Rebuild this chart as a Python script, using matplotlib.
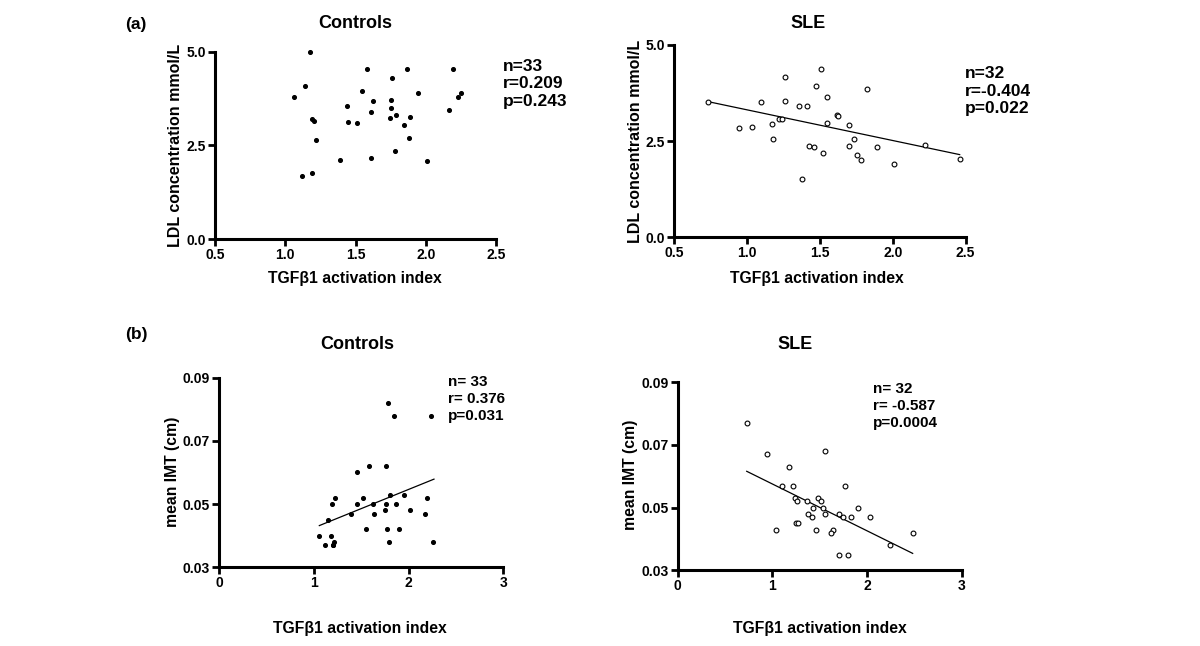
import matplotlib
matplotlib.use("Agg")
from matplotlib import pyplot as plt

plt.rcParams['font.family'] = ['Liberation Sans', 'DejaVu Sans']
plt.rcParams['font.weight'] = 'bold'

# (a) LDL vs TGFb1 activation index
ctrl_ldl_x = [1.174, 1.06, 1.143, 1.193, 1.207, 1.219, 1.117, 1.19, 1.389, 1.436, 1.448,
              1.514, 1.543, 1.585, 1.623, 1.613, 1.613, 1.75, 1.75, 1.762, 1.743, 1.79,
              1.781, 1.864, 1.843, 1.89, 1.88, 1.942, 2.01, 2.162, 2.193, 2.233, 2.252]
ctrl_ldl_y = [5.0, 3.78, 4.08, 3.2, 3.15, 2.64, 1.68, 1.77, 2.12, 3.56, 3.13,
              3.09, 3.95, 4.55, 3.68, 3.40, 2.17, 3.71, 3.51, 4.30, 3.22, 3.30,
              2.35, 4.55, 3.05, 3.25, 2.70, 3.90, 2.09, 3.44, 4.54, 3.80, 3.90]

sle_ldl_x = [0.729, 0.947, 1.036, 1.098, 1.169, 1.217, 1.24, 1.18, 1.263, 1.263, 1.356,
             1.414, 1.423, 1.459, 1.473, 1.508, 1.524, 1.549, 1.551, 1.375, 1.615, 1.624,
             1.698, 1.732, 1.698, 1.755, 1.785, 1.824, 1.892, 2.011, 2.222, 2.46]
sle_ldl_y = [3.53, 2.83, 2.86, 3.52, 2.94, 3.07, 3.07, 2.56, 4.16, 3.54, 3.41,
             3.41, 2.37, 2.35, 3.93, 4.38, 2.18, 3.65, 2.96, 1.52, 3.19, 3.16,
             2.91, 2.56, 2.37, 2.13, 2.01, 3.85, 2.35, 1.90, 2.40, 2.03]
sle_ldl_fit_x = [0.729, 2.46]
sle_ldl_fit_y = [3.53, 2.15]

# (b) mean IMT vs TGFb1 activation index
ctrl_imt_x = [1.786, 1.849, 2.239, 1.585, 1.761, 1.452, 1.22, 1.518, 1.80, 1.951, 2.197,
              1.195, 1.452, 1.62, 1.761, 1.87, 1.392, 1.631, 1.75, 2.018, 2.172, 1.146,
              1.55, 1.772, 1.898, 1.058, 1.178, 1.118, 1.199, 1.209, 1.789, 2.26, 1.20]
ctrl_imt_y = [0.082, 0.078, 0.078, 0.062, 0.062, 0.060, 0.052, 0.052, 0.053, 0.053, 0.052,
              0.050, 0.050, 0.050, 0.050, 0.050, 0.047, 0.047, 0.048, 0.048, 0.047, 0.045,
              0.042, 0.042, 0.042, 0.040, 0.040, 0.037, 0.037, 0.038, 0.038, 0.038, 0.037]
ctrl_imt_fit_x = [1.058, 2.267]
ctrl_imt_fit_y = [0.0432, 0.0579]

sle_imt_x = [0.729, 0.944, 1.173, 1.556, 1.099, 1.222, 1.771, 1.243, 1.264, 1.363, 1.482,
             1.518, 1.426, 1.532, 1.908, 1.380, 1.556, 1.419, 1.708, 1.743, 1.835, 2.028,
             1.246, 1.271, 1.035, 1.465, 1.637, 1.620, 2.482, 2.243, 1.708, 1.799]
sle_imt_y = [0.077, 0.067, 0.063, 0.068, 0.057, 0.057, 0.057, 0.053, 0.052, 0.052, 0.053,
             0.052, 0.050, 0.050, 0.050, 0.048, 0.048, 0.047, 0.048, 0.047, 0.047, 0.047,
             0.045, 0.045, 0.043, 0.043, 0.043, 0.042, 0.042, 0.038, 0.035, 0.035]
sle_imt_fit_x = [0.729, 2.482]
sle_imt_fit_y = [0.0616, 0.0354]

xlabel = 'TGF\u03b21 activation index'


def style_axes(ax, xlim, ylim, xticks, yticks, xfmt, yfmt):
    ax.set_xlim(*xlim)
    ax.set_ylim(*ylim)
    ax.set_xticks(xticks)
    ax.set_yticks(yticks)
    ax.set_xticklabels([xfmt.format(v) for v in xticks])
    ax.set_yticklabels([yfmt.format(v) for v in yticks])
    for side in ['top', 'right']:
        ax.spines[side].set_visible(False)
    for side in ['left', 'bottom']:
        ax.spines[side].set_linewidth(2.2)
    ax.tick_params(width=2, length=5, labelsize=10, pad=1.5)
    for lab in ax.get_xticklabels() + ax.get_yticklabels():
        lab.set_fontweight('bold')


fig = plt.figure(figsize=(12, 6.46), dpi=100)

# panel a - controls
ax0 = fig.add_axes([215 / 1200, 1 - 239 / 646, 281 / 1200, 187.3 / 646])
ax0.scatter(ctrl_ldl_x, ctrl_ldl_y, s=7, color='black', clip_on=False, zorder=3)
style_axes(ax0, (0.5, 2.5), (0, 5), [0.5, 1.0, 1.5, 2.0, 2.5], [0.0, 2.5, 5.0], '{:.1f}', '{:.1f}')

# panel a - SLE
ax1 = fig.add_axes([674.3 / 1200, 1 - 237.3 / 646, 291.2 / 1200, 192.3 / 646])
ax1.scatter(sle_ldl_x, sle_ldl_y, s=12, facecolors='white', edgecolors='black',
            linewidths=0.8, clip_on=False, zorder=3)
ax1.plot(sle_ldl_fit_x, sle_ldl_fit_y, color='black', lw=0.9)
style_axes(ax1, (0.5, 2.5), (0, 5), [0.5, 1.0, 1.5, 2.0, 2.5], [0.0, 2.5, 5.0], '{:.1f}', '{:.1f}')

# panel b - controls
ax2 = fig.add_axes([219 / 1200, 1 - 567.3 / 646, 284.5 / 1200, 189.6 / 646])
ax2.scatter(ctrl_imt_x, ctrl_imt_y, s=7, color='black', clip_on=False, zorder=3)
ax2.plot(ctrl_imt_fit_x, ctrl_imt_fit_y, color='black', lw=0.9)
style_axes(ax2, (0, 3), (0.03, 0.09), [0, 1, 2, 3], [0.03, 0.05, 0.07, 0.09], '{:d}', '{:.2f}')

# panel b - SLE
ax3 = fig.add_axes([677.7 / 1200, 1 - 570.3 / 646, 284 / 1200, 188 / 646])
ax3.scatter(sle_imt_x, sle_imt_y, s=12, facecolors='white', edgecolors='black',
            linewidths=0.8, clip_on=False, zorder=3)
ax3.plot(sle_imt_fit_x, sle_imt_fit_y, color='black', lw=0.9)
style_axes(ax3, (0, 3), (0.03, 0.09), [0, 1, 2, 3], [0.03, 0.05, 0.07, 0.09], '{:d}', '{:.2f}')

# labels placed in figure pixels
def ftext(x, y, s, **kw):
    fig.text(x / 1200, 1 - y / 646, s, fontweight='bold', **kw)

ftext(136, 25, '(a)', fontsize=12.5, ha='center', va='center')
ftext(136, 335, '(b)', fontsize=12.5, ha='center', va='center')

ftext(355, 23, 'Controls', fontsize=13, ha='center', va='center')
ftext(808, 23, 'SLE', fontsize=13, ha='center', va='center')
ftext(357, 345, 'Controls', fontsize=13, ha='center', va='center')
ftext(795, 345, 'SLE', fontsize=13, ha='center', va='center')

ftext(176, 145, 'LDL concentration mmol/L', fontsize=11.5, rotation=90, ha='center', va='center')
ftext(635, 141, 'LDL concentration mmol/L', fontsize=11.5, rotation=90, ha='center', va='center')
ftext(172, 472, 'mean IMT (cm)', fontsize=11.3, rotation=90, ha='center', va='center')
ftext(630, 475, 'mean IMT (cm)', fontsize=11.3, rotation=90, ha='center', va='center')

ftext(355, 278, xlabel, fontsize=11.3, ha='center', va='center')
ftext(817, 278, xlabel, fontsize=11.3, ha='center', va='center')
ftext(360, 628, xlabel, fontsize=11.3, ha='center', va='center')
ftext(820, 628, xlabel, fontsize=11.3, ha='center', va='center')

# stats annotations
ftext(503, 84, 'n=33\nr=0.209\np=0.243', fontsize=12.5, ha='left', va='center', linespacing=1.18)
ftext(965, 91, 'n=32\nr=-0.404\np=0.022', fontsize=12.5, ha='left', va='center', linespacing=1.18)
ftext(448, 399, 'n= 33\nr= 0.376\np=0.031', fontsize=11, ha='left', va='center', linespacing=1.25)
ftext(873, 406, 'n= 32\nr= -0.587\np=0.0004', fontsize=11, ha='left', va='center', linespacing=1.25)

plt.savefig('out.png', dpi=100)
plt.close()
